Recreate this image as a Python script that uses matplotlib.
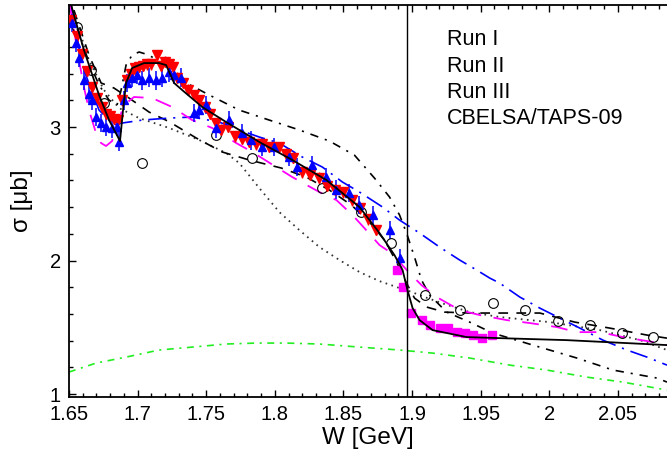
import matplotlib
matplotlib.use("Agg")
import matplotlib.pyplot as plt
from matplotlib.ticker import MultipleLocator
import numpy as np

plt.rcParams['font.family'] = ['Liberation Sans', 'DejaVu Sans']
plt.rcParams['lines.scale_dashes'] = False

# Run I (red, down triangles)
run1_w = [1.6515, 1.656, 1.6595, 1.663, 1.667, 1.6705, 1.674, 1.677, 1.680, 1.683,
          1.686, 1.689, 1.692, 1.695, 1.698, 1.701, 1.704, 1.707, 1.710, 1.714,
          1.717, 1.720, 1.723, 1.726, 1.729, 1.733, 1.737, 1.741, 1.745, 1.749,
          1.753, 1.757, 1.761, 1.766, 1.771, 1.776, 1.781, 1.786, 1.791, 1.796,
          1.803, 1.808, 1.813, 1.820, 1.826, 1.832, 1.838, 1.844, 1.850, 1.856,
          1.862, 1.868, 1.874]
run1_s = [3.80, 3.68, 3.55, 3.42, 3.30, 3.22, 3.15, 3.10, 3.08, 3.06,
          3.05, 3.20, 3.35, 3.40, 3.44, 3.45, 3.46, 3.47, 3.47, 3.54,
          3.46, 3.49, 3.47, 3.45, 3.37, 3.33, 3.28, 3.24, 3.20, 3.15,
          3.10, 3.03, 2.98, 3.00, 2.93, 2.91, 2.89, 2.87, 2.87, 2.85,
          2.85, 2.80, 2.77, 2.66, 2.64, 2.62, 2.56, 2.53, 2.51, 2.45,
          2.39, 2.31, 2.23]

# Run II (blue, up triangles)
run2_w = [1.6522, 1.6551, 1.6573, 1.6609, 1.6646, 1.6668, 1.6697, 1.6734, 1.677, 1.6814,
          1.685, 1.6865, 1.6901, 1.6923, 1.696, 1.6996, 1.7033, 1.7084, 1.7135, 1.7179,
          1.723, 1.7266, 1.7318, 1.7412, 1.7449, 1.750, 1.7573, 1.7668, 1.7763, 1.7828,
          1.7909, 1.7996, 1.8106, 1.8164, 1.8274, 1.8376, 1.8449, 1.8544, 1.8617, 1.8712,
          1.8836, 1.8909]
run2_s = [3.78, 3.63, 3.52, 3.35, 3.25, 3.20, 3.075, 3.03, 3.00, 2.99,
          3.00, 2.89, 3.20, 3.33, 3.37, 3.39, 3.35, 3.37, 3.35, 3.37,
          3.41, 3.39, 3.37, 3.105, 3.127, 3.165, 2.99, 3.05, 2.955, 2.90,
          2.85, 2.85, 2.775, 2.70, 2.715, 2.625, 2.53, 2.506, 2.416, 2.34,
          2.228, 2.019]

# Run III (magenta squares)
run3_w = [1.8887, 1.8931, 1.8996, 1.9069, 1.9128, 1.9201, 1.9259, 1.9325, 1.9383, 1.9442,
          1.9507, 1.958]
run3_s = [1.929, 1.801, 1.607, 1.554, 1.517, 1.494, 1.494, 1.464, 1.457, 1.442,
          1.419, 1.442]

# CBELSA/TAPS-09 (open circles)
cb_w = [1.6558, 1.666, 1.6755, 1.7033, 1.7573, 1.7836, 1.8347, 1.8631, 1.885, 1.9091,
        1.9347, 1.9588, 1.9821, 2.0062, 2.0296, 2.0529, 2.0755]
cb_s = [3.75, 3.43, 3.18, 2.73, 2.94, 2.77, 2.54, 2.36, 2.13, 1.74,
        1.63, 1.68, 1.63, 1.55, 1.52, 1.46, 1.43]

# model curves
fit_w = [1.650, 1.6609, 1.6719, 1.6792, 1.6872, 1.6894, 1.6916, 1.696, 1.7047, 1.7157,
         1.7208, 1.7266, 1.7325, 1.7471, 1.7646, 1.7887, 1.8128, 1.8376, 1.8617, 1.8763,
         1.8872, 1.8931, 1.8967, 1.9004, 1.9055, 1.915, 1.9398, 1.9639, 2.0128, 2.0858]
fit_s = [3.97, 3.577, 3.24, 3.052, 2.895, 3.127, 3.33, 3.442, 3.479, 3.479,
         3.464, 3.33, 3.277, 3.15, 3.037, 2.888, 2.753, 2.603, 2.401, 2.206,
         2.041, 1.929, 1.779, 1.644, 1.554, 1.479, 1.427, 1.419, 1.404, 1.367]

mag_w = [1.650, 1.6573, 1.6609, 1.6646, 1.6697, 1.6734, 1.677, 1.6814, 1.685, 1.6901,
         1.6974, 1.7106, 1.7252, 1.7398, 1.7544, 1.7719, 1.7836, 1.8011, 1.8128, 1.8325,
         1.8449, 1.8566, 1.8653, 1.8763, 1.885, 1.8909, 1.8982, 1.9069, 1.9179, 1.9347,
         1.9493, 1.969, 1.9858, 2.0055, 2.0201, 2.0369, 2.0536, 2.0755, 2.0858]
mag_s = [3.95, 3.502, 3.30, 3.127, 2.955, 2.88, 2.858, 2.895, 3.015, 3.165,
         3.225, 3.217, 3.15, 3.052, 2.993, 2.88, 2.813, 2.70, 2.625, 2.513,
         2.453, 2.341, 2.243, 2.116, 2.056, 1.989, 1.906, 1.816, 1.727, 1.629,
         1.592, 1.554, 1.532, 1.502, 1.464, 1.464, 1.427, 1.39, 1.367]

blue_w = [1.650, 1.6609, 1.6719, 1.6828, 1.6887, 1.7033, 1.7135, 1.723, 1.7398, 1.7595,
          1.7741, 1.7887, 1.8033, 1.8201, 1.8347, 1.8493, 1.8617, 1.8785, 1.8909, 1.9055,
          1.9201, 1.9347, 1.9471, 1.9566, 1.9639, 1.9785, 1.9931, 2.0077, 2.0223, 2.0391,
          2.0566, 2.0712, 2.0858]
blue_s = [3.95, 3.427, 3.127, 3.015, 3.03, 3.052, 3.06, 3.067, 3.075, 3.037,
          2.978, 2.925, 2.88, 2.775, 2.70, 2.588, 2.513, 2.401, 2.303, 2.206,
          2.101, 2.004, 1.929, 1.869, 1.831, 1.727, 1.644, 1.569, 1.494, 1.404,
          1.33, 1.277, 1.217]

dd_w = [1.6515, 1.6573, 1.6646, 1.6719, 1.6792, 1.685, 1.688, 1.6916, 1.696, 1.7011,
        1.7084, 1.7193, 1.7288, 1.7522, 1.7741, 1.796, 1.8179, 1.8398, 1.858, 1.8726,
        1.8836, 1.8909, 1.896, 1.9018, 1.9069, 1.9128, 1.9252, 1.942, 1.9588, 1.988,
        2.0201, 2.0464, 2.0785, 2.0858]
dd_s = [3.914, 3.689, 3.487, 3.315, 3.202, 3.165, 3.277, 3.464, 3.539, 3.562,
        3.539, 3.464, 3.367, 3.24, 3.127, 3.052, 2.978, 2.895, 2.79, 2.618,
        2.476, 2.341, 2.206, 2.026, 1.854, 1.742, 1.614, 1.539, 1.457, 1.367,
        1.27, 1.18, 1.12, 1.09]

dash_w = [1.6536, 1.6646, 1.6734, 1.6828, 1.6938, 1.7084, 1.723, 1.7427, 1.7617, 1.7814,
          1.8047, 1.823, 1.8398, 1.8558, 1.869, 1.8799, 1.8887, 1.896, 1.9018, 1.9106,
          1.9237, 1.942, 1.9639, 1.9931, 2.0186, 2.0442, 2.0712, 2.0858]
dash_s = [3.876, 3.539, 3.33, 3.292, 3.217, 3.112, 3.04, 2.918, 2.813, 2.753,
          2.693, 2.625, 2.528, 2.416, 2.288, 2.154, 1.989, 1.831, 1.719, 1.652,
          1.614, 1.607, 1.607, 1.607, 1.539, 1.494, 1.442, 1.419]

dot_w = [1.6515, 1.6646, 1.6755, 1.6865, 1.7011, 1.723, 1.7449, 1.7646, 1.7741, 1.7887,
         1.8033, 1.8179, 1.8325, 1.8471, 1.8617, 1.8763, 1.8909, 1.896, 1.9091, 1.9237,
         1.942, 1.9639, 2.0004, 2.0369, 2.0661, 2.0858]
dot_s = [3.914, 3.50, 3.277, 3.142, 3.067, 2.993, 2.903, 2.805, 2.73, 2.543,
         2.363, 2.228, 2.101, 2.004, 1.914, 1.846, 1.794, 1.779, 1.727, 1.674,
         1.614, 1.577, 1.539, 1.479, 1.404, 1.33]

green_w = [1.650, 1.6697, 1.6916, 1.7157, 1.7398, 1.7646, 1.7865, 1.8084, 1.8325, 1.8617,
           1.8909, 1.915, 1.942, 1.9712, 1.9982, 2.0274, 2.0536, 2.0858]
green_s = [1.165, 1.232, 1.277, 1.33, 1.352, 1.375, 1.382, 1.382, 1.375, 1.352,
           1.33, 1.307, 1.27, 1.217, 1.18, 1.127, 1.09, 1.03]

threshold = 1.8965
legend_labels = ['Run I', 'Run II', 'Run III', 'CBELSA/TAPS-09']

fig = plt.figure(figsize=(6.67, 4.63), dpi=100)
ax = fig.add_axes([0.1034, 0.1425, 0.8966, 0.8467])

# theory curves
ax.plot(green_w, green_s, color='#22ee22', lw=1.2, ls=(0, (5, 4, 1.5, 4)))
ax.plot(dot_w, dot_s, color='#333333', lw=1.3, ls=(0, (1.2, 3.2)))
ax.plot(dash_w, dash_s, color='black', lw=1.2, ls=(0, (7, 6)))
ax.plot(dd_w, dd_s, color='black', lw=1.2, ls=(0, (6, 5, 1.5, 5)))
ax.plot(blue_w, blue_s, color='#0000ff', lw=1.2, ls=(0, (13, 5, 1.5, 5)))
ax.plot(mag_w, mag_s, color='#ff00ff', lw=1.3, ls=(0, (12, 9)))

# data
ax.errorbar(run1_w, run1_s, yerr=0.04, fmt='v', color='#ff0000', ms=6.5,
            elinewidth=1.0, capsize=0, zorder=4)
ax.errorbar(run2_w, run2_s, yerr=0.07, fmt='^', color='#0000ff', ms=6,
            elinewidth=1.1, capsize=0, zorder=4)
ax.plot(run3_w, run3_s, 's', color='#ff00ff', ms=5.5, zorder=4)
ax.plot(cb_w, cb_s, 'o', mfc='none', mec='black', ms=7, mew=0.8, zorder=4)

ax.plot(fit_w, fit_s, color='black', lw=1.3, zorder=5)
ax.axvline(threshold, color='black', lw=1.0, zorder=5)

for i, lab in enumerate(legend_labels):
    ax.text(0.632, 0.911 - i * 0.067, lab, transform=ax.transAxes,
            fontsize=15.5, va='center', ha='left')

ax.set_xlim(1.65, 2.0858)
ax.set_ylim(0.978, 3.914)
ax.xaxis.set_major_locator(MultipleLocator(0.05))
ax.xaxis.set_minor_locator(MultipleLocator(0.01))
ax.yaxis.set_major_locator(MultipleLocator(1))
ax.yaxis.set_minor_locator(MultipleLocator(0.2))
ax.set_xticks([1.65, 1.7, 1.75, 1.8, 1.85, 1.9, 1.95, 2.0, 2.05])
ax.set_xticklabels(['1.65', '1.7', '1.75', '1.8', '1.85', '1.9', '1.95', '2', '2.05'])
ax.set_yticks([1, 2, 3])
ax.set_yticklabels(['1', '2', '3'])
ax.tick_params(which='both', direction='in', top=True, right=False,
               labelsize=14.5, width=1.0)
ax.tick_params(which='major', length=5, pad=6)
ax.tick_params(which='minor', length=3)
ax.spines['right'].set_visible(False)
for s in ['left', 'bottom', 'top']:
    ax.spines[s].set_linewidth(1.3)

ax.set_xlabel('W [GeV]', fontsize=17.5, labelpad=2)
ax.set_ylabel('σ [μb]', fontsize=17.5, labelpad=12)

fig.savefig('out.png', dpi=100)
